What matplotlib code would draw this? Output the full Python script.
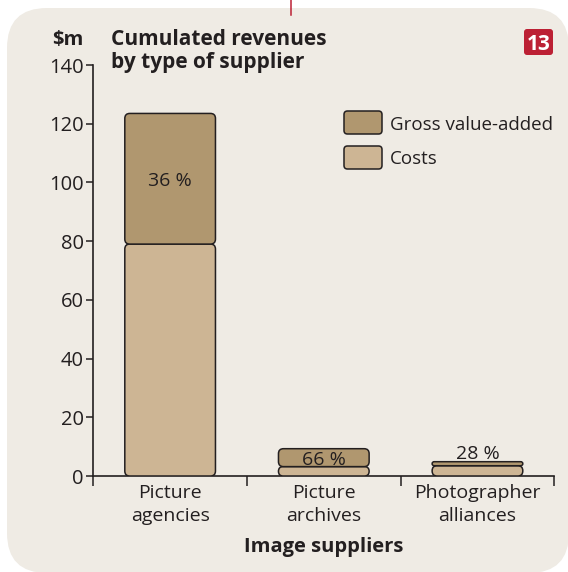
import matplotlib
matplotlib.use("Agg")
import matplotlib.pyplot as plt
from matplotlib.patches import FancyBboxPatch

# ---- data -------------------------------------------------------------
categories = ["Picture\nagencies", "Picture\narchives", "Photographer\nalliances"]
costs = [79.0, 3.2, 3.5]
gross_value_added = [44.5, 6.1, 1.37]
share_labels = ["36 %", "66 %", "28 %"]
y_ticks = [0, 20, 40, 60, 80, 100, 120, 140]

# ---- style ------------------------------------------------------------
FONT = ["Open Sans", "DejaVu Sans"]
plt.rcParams["font.family"] = FONT
INK = "#231F20"
PANEL = "#EFEBE4"
C_GVA = "#B0976F"
C_COST = "#CDB594"
RED = "#BC2034"

W, H = 568, 572
fig = plt.figure(figsize=(W / 100, H / 100), dpi=100)
fig.patch.set_facecolor("white")

# background layer in pixel units (origin top-left)
bg = fig.add_axes([0, 0, 1, 1])
bg.set_xlim(0, W)
bg.set_ylim(H, 0)
bg.axis("off")

bg.add_patch(FancyBboxPatch((7, 8), 562, 565,
                            boxstyle="round,pad=0,rounding_size=40",
                            fc=PANEL, ec="none", zorder=0))
bg.plot([290.7, 290.7], [0, 15], color=RED, lw=1.1, zorder=1)

# number badge
bg.add_patch(FancyBboxPatch((524, 29), 29, 26,
                            boxstyle="round,pad=0,rounding_size=3",
                            fc=RED, ec="none", zorder=1))
bg.text(538.5, 42.5, "13", color="white", fontsize=15, fontweight="bold",
        ha="center", va="center_baseline", zorder=2)

# titles
bg.text(52, 45, "$m", color=INK, fontsize=14.5, fontweight="bold",
        ha="left", va="baseline")
bg.text(111, 45, "Cumulated revenues", color=INK,
        fontsize=15, fontweight="bold", ha="left", va="baseline")
bg.text(111, 68, "by type of supplier", color=INK,
        fontsize=15, fontweight="bold", ha="left", va="baseline")

# legend
legend_items = [("Gross value-added", C_GVA, 111), ("Costs", C_COST, 146)]
for label, col, top in legend_items:
    bg.add_patch(FancyBboxPatch((344, top), 38, 23,
                                boxstyle="round,pad=0,rounding_size=3.5",
                                fc=col, ec=INK, lw=1.1, zorder=2))
    bg.text(390, top + 11.5, label, color=INK, fontsize=13.5,
            ha="left", va="center_baseline")

# ---- main axes --------------------------------------------------------
ax_left, ax_right = 93.3, 554.3
ax_bottom, ax_top = 476.0, 65.0
ax = fig.add_axes([ax_left / W, 1 - ax_bottom / H,
                   (ax_right - ax_left) / W, (ax_bottom - ax_top) / H])
ax.set_facecolor("none")
ax.set_xlim(-0.5, len(categories) - 0.5)
ax.set_ylim(0, 140)

px_x = (ax_right - ax_left) / len(categories)   # pixels per x unit
px_y = (ax_bottom - ax_top) / 140.0             # pixels per y unit
aspect = px_x / px_y
bar_w = 0.59


def rounded_bar(x, y0, h, color):
    w_px = bar_w * px_x
    h_px = h * px_y
    r = min(5.0, h_px / 2.0, w_px / 2.0)
    ax.add_patch(FancyBboxPatch((x - bar_w / 2, y0), bar_w, h,
                                boxstyle=f"round,pad=0,rounding_size={r / px_x}",
                                mutation_aspect=aspect,
                                fc=color, ec=INK, lw=1.1, zorder=3))


for i, (c, g) in enumerate(zip(costs, gross_value_added)):
    rounded_bar(i, 0, c, C_COST)
    rounded_bar(i, c, g, C_GVA)

# share of value added
ax.text(0, costs[0] + gross_value_added[0] / 2, share_labels[0], color=INK,
        fontsize=14, ha="center", va="center_baseline", zorder=4)
ax.text(1, costs[1] + gross_value_added[1] / 2, share_labels[1], color=INK,
        fontsize=14, ha="center", va="center_baseline", zorder=4)
ax.text(2, costs[2] + gross_value_added[2] + 3.3, share_labels[2], color=INK,
        fontsize=14, ha="center", va="center_baseline", zorder=4)

for s in ["top", "right"]:
    ax.spines[s].set_visible(False)
for s in ["left", "bottom"]:
    ax.spines[s].set_color(INK)
    ax.spines[s].set_linewidth(1.2)

ax.set_yticks(y_ticks)
ax.set_yticklabels([str(v) for v in y_ticks])
ax.tick_params(axis="y", direction="out", length=5, width=1.1, color=INK,
               labelcolor=INK, labelsize=14.5, pad=2)

ax.set_xticks([-0.5, 0.5, 1.5, 2.5])
ax.set_xticklabels([])
ax.tick_params(axis="x", which="major", direction="out", length=7,
               width=1.1, color=INK)
ax.set_xticks(range(len(categories)), minor=True)
ax.set_xticklabels(categories, minor=True)
ax.tick_params(axis="x", which="minor", length=0, labelcolor=INK,
               labelsize=14, pad=6)
for t in ax.get_xticklabels(minor=True):
    t.set_linespacing(1.3)

ax.set_xlabel("Image suppliers", color=INK, fontsize=14.5,
              fontweight="bold", labelpad=9)

fig.savefig("out.png", dpi=100, facecolor="white")
